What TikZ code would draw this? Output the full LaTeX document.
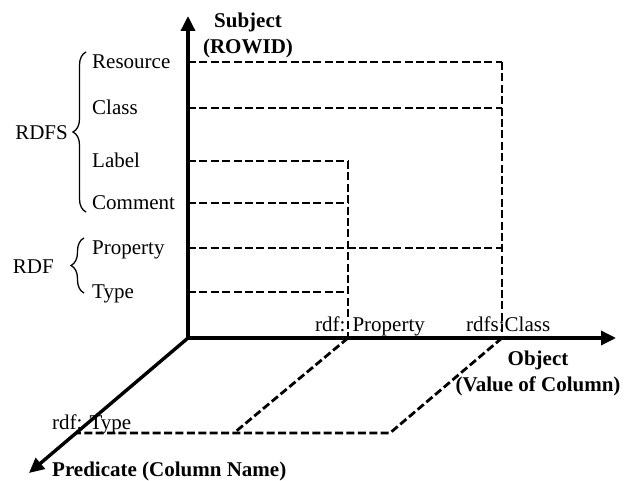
\documentclass[tikz,border=0pt]{standalone}
\usepackage{fontspec}
\setmainfont{Liberation Serif}
\usetikzlibrary{arrows.meta}
\usetikzlibrary{decorations.pathreplacing}

\tikzset{
	axis/.style = {line width=3.4pt, -{Triangle[length=15pt,width=14pt]}},
	guide/.style = {line width=2.8pt, dash pattern=on 8pt off 3.4pt},
	lbl/.style = {font=\fontsize{21}{25}\selectfont, inner sep=0pt, text height=13.9pt, text depth=0pt},
	axislbl/.style = {font=\fontsize{21}{26}\selectfont\bfseries, inner sep=0pt, align=center},
	curly/.style = {decorate, decoration={brace, amplitude=13pt}, line width=1.3pt}
}

\begin{document}
\begin{tikzpicture}[x=1pt, y=-1pt]
	\useasboundingbox (0,0) rectangle (625,481);

	% axes
	\coordinate (O) at (188,338);
	\coordinate (subjEnd) at (188,16);
	\coordinate (objEnd) at (616,338);
	\coordinate (predEnd) at (29,473);
	\draw[axis] (O) -- (subjEnd);
	\draw[axis] (O) -- (objEnd);
	\draw[axis] (O) -- (predEnd);

	\node[axislbl] (subj) at (248,35) {Subject\\(ROWID)};
	\node[axislbl] (obj) at (538,373) {Object\\(Value of Column)};
	\node[axislbl, anchor=base west] (pred) at (52,477) {Predicate (Column Name)};

	% subject values
	\node[lbl, anchor=west] (res) at (92,62) {Resource};
	\node[lbl, anchor=west] (cls) at (92,108) {Class};
	\node[lbl, anchor=west] (lab) at (92,161) {Label};
	\node[lbl, anchor=west] (com) at (92,203) {Comment};
	\node[lbl, anchor=west] (prop) at (92,248) {Property};
	\node[lbl, anchor=west] (typ) at (92,292) {Type};

	\draw[curly] (86,212) -- (86,52);
	\node[lbl, anchor=east] (rdfs) at (68,133) {RDFS};
	\draw[curly] (84,293) -- (84,238);
	\node[lbl, anchor=east] (rdf) at (54,267) {RDF};

	% object values
	\coordinate (cP) at (348,338);
	\coordinate (cC) at (502,338);
	\node[lbl, anchor=base west] (rdfprop) at (315,332) {rdf: Property};
	\node[lbl, anchor=base west] (rdfscls) at (466,332) {rdfs:Class};

	\foreach \n/\c in {res/cC, cls/cC, lab/cP, com/cP, prop/cC, typ/cP}
	\draw[guide] (\n -| O) -- (\n -| \c);
	\draw[guide] (res -| cC) -- (cC);
	\draw[guide] (lab -| cP) -- (cP);

	% predicate value
	\node[lbl, anchor=base west] (rdftype) at (52,430) {rdf: Type};
	\coordinate (b0) at (76,433);
	\coordinate (b1) at (234,433);
	\coordinate (b2) at (390,433);
	\draw[guide] (cC) -- (b2) -- (b0);
	\draw[guide] (cP) -- (b1);
\end{tikzpicture}
\end{document}
